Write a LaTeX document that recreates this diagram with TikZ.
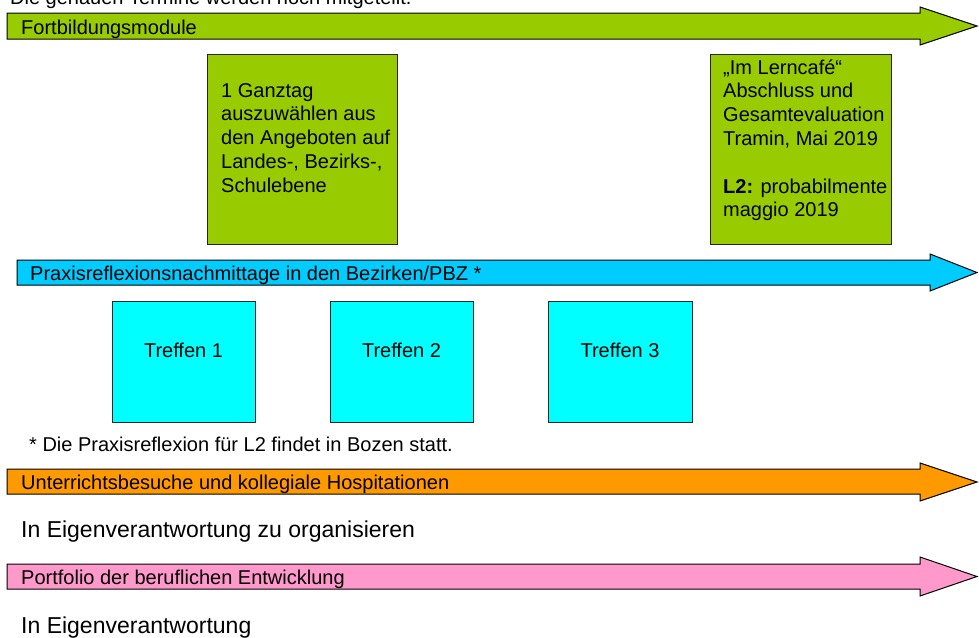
\documentclass[tikz,border=0pt]{standalone}
\usepackage{fontspec}
\setmainfont{Liberation Sans}
\definecolor{fgreen}{HTML}{99CC00}
\definecolor{fblue}{HTML}{00CCFF}
\definecolor{fcyan}{HTML}{00FFFF}
\definecolor{forange}{HTML}{FF9900}
\definecolor{fpink}{HTML}{FF99CC}
\newcommand{\barArrow}[8]{%
  \filldraw[barshape, fill=#1] (#2,#3) -- (#5,#3) -- (#5,#6) -- (#8,{(#6+#7)/2}) -- (#5,#7) -- (#5,#4) -- (#2,#4) -- cycle;}
\tikzset{
  lbl/.style={anchor=base west, inner sep=0pt, font=\fontsize{20}{23.8}\selectfont},
  biglbl/.style={anchor=base west, inner sep=0pt, font=\fontsize{23}{27}\selectfont},
  boxlbl/.style={anchor=base, inner sep=0pt, font=\fontsize{20}{23.8}\selectfont},
  barshape/.style={draw=black, line width=1pt, line join=miter},
  boxshape/.style={draw=black!85, line width=1pt},
}
\begin{document}
\begin{tikzpicture}[x=1pt,y=-1pt]
\useasboundingbox (0,0) rectangle (979,637);
% top note (cut off)
\node[lbl] (note) at (10,4.5) {Die genauen Termine werden noch mitgeteilt.};
% Fortbildungsmodule
\barArrow{fgreen}{7}{13}{39}{920}{7}{45}{977}
\node[lbl] (fb) at (21,34) {Fortbildungsmodule};
\filldraw[boxshape, fill=fgreen] (207,54) rectangle (397,244);
\filldraw[boxshape, fill=fgreen] (710,54) rectangle (891,244);
\node[lbl] (g1) at (221,97) {\begin{tabular}[t]{@{}l@{}}1 Ganztag\\auszuwählen aus\\den Angeboten auf\\Landes-, Bezirks-,\\Schulebene\end{tabular}};
\node[lbl] (g2) at (723,74) {\begin{tabular}[t]{@{}l@{}}„Im Lerncafé“\\Abschluss und\\Gesamtevaluation\\Tramin, Mai 2019\\ \\\textbf{L2:} probabilmente\\maggio 2019\end{tabular}};
% Praxisreflexion
\barArrow{fblue}{17}{260}{285}{930}{254}{291}{977}
\node[lbl] (pr) at (30,280.5) {Praxisreflexionsnachmittage in den Bezirken/PBZ *};
\filldraw[boxshape, fill=fcyan] (112,301) rectangle (255,422);
\filldraw[boxshape, fill=fcyan] (330,301) rectangle (473,422);
\filldraw[boxshape, fill=fcyan] (548,301) rectangle (692,422);
\node[boxlbl] (t1) at (183.5,357) {Treffen 1};
\node[boxlbl] (t2) at (401.5,357) {Treffen 2};
\node[boxlbl] (t3) at (620,357) {Treffen 3};
\node[lbl] (fn) at (29,451) {* Die Praxisreflexion für L2 findet in Bozen statt.};
% Unterrichtsbesuche
\barArrow{forange}{7}{469}{494}{920}{463}{501}{977}
\node[lbl] (ub) at (21,489) {Unterrichtsbesuche und kollegiale Hospitationen};
\node[biglbl] (ev1) at (21,537) {In Eigenverantwortung zu organisieren};
% Portfolio
\barArrow{fpink}{7}{564}{589}{920}{557}{596}{977}
\node[lbl] (pf) at (21,584.5) {Portfolio der beruflichen Entwicklung};
\node[biglbl] (ev2) at (21,633) {In Eigenverantwortung};
\end{tikzpicture}
\end{document}
